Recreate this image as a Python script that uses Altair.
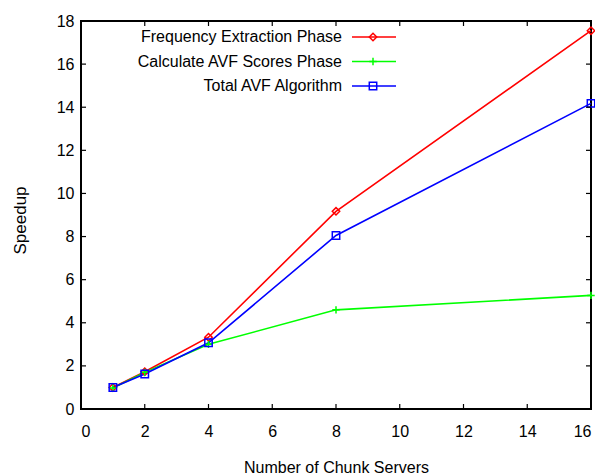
import altair as alt
import pandas as pd

servers = [1, 2, 4, 8, 16]
freq_phase = [1.0, 1.73, 3.33, 9.17, 17.55]
calc_phase = [0.97, 1.70, 3.0, 4.6, 5.27]
total_alg = [1.0, 1.62, 3.07, 8.05, 14.18]

series_names = ["Frequency Extraction Phase", "Calculate AVF Scores Phase", "Total AVF Algorithm"]
series_colors = ["#ff0000", "#00ff00", "#0000ff"]
series_shapes = ["diamond", "M-1,0H1M0,-1V1", "square"]

x_ticks = [2, 4, 6, 8, 10, 12, 14]
y_ticks = [2, 4, 6, 8, 10, 12, 14, 16]

W, H = 510, 388
FONT = "Liberation Sans"

rows = []
for name, vals in zip(series_names, [freq_phase, calc_phase, total_alg]):
    for s, v in zip(servers, vals):
        rows.append({"servers": s, "speedup": v, "series": name})
df = pd.DataFrame(rows)

xscale = alt.Scale(domain=[0, 16], nice=False, zero=False)
yscale = alt.Scale(domain=[0, 18], nice=False, zero=False)
cscale = alt.Scale(domain=series_names, range=series_colors)
sscale = alt.Scale(domain=series_names, range=series_shapes)

xaxis = alt.Axis(values=[0, 2, 4, 6, 8, 10, 12, 14, 16], ticks=False, domain=False, grid=False,
                 labelFont=FONT, labelFontSize=16, labelColor="black", labelPadding=14,
                 title="Number of Chunk Servers", titleFont=FONT, titleFontSize=16,
                 titleFontWeight="normal", titleColor="black",
                 titleX=255, titleY=58, titleBaseline="middle", titleAnchor="middle")
yaxis = alt.Axis(values=[0, 2, 4, 6, 8, 10, 12, 14, 16, 18], ticks=False, domain=False, grid=False,
                 labelFont=FONT, labelFontSize=16, labelColor="black", labelPadding=7,
                 title="Speedup", titleFont=FONT, titleFontSize=17,
                 titleFontWeight="normal", titleColor="black",
                 titleX=-61, titleY=199, titleBaseline="middle", titleAnchor="middle")

base = alt.Chart(df)

lines = base.mark_line(strokeWidth=1.6).encode(
    x=alt.X("servers:Q", scale=xscale, axis=xaxis),
    y=alt.Y("speedup:Q", scale=yscale, axis=yaxis),
    color=alt.Color("series:N", scale=cscale, legend=None),
    detail="series:N",
)

points = base.mark_point(filled=False, strokeWidth=1.5, size=55, opacity=1).encode(
    x=alt.X("servers:Q", scale=xscale, axis=xaxis),
    y=alt.Y("speedup:Q", scale=yscale, axis=yaxis),
    color=alt.Color("series:N", scale=cscale, legend=None),
    shape=alt.Shape("series:N", scale=sscale, legend=None),
)

# inward ticks (gnuplot style)
xt = pd.DataFrame({"servers": x_ticks})
yt = pd.DataFrame({"speedup": y_ticks})
TL = 5
xt_bottom = alt.Chart(xt).mark_rule(color="black", strokeWidth=1.2).encode(
    x=alt.X("servers:Q", scale=xscale, axis=xaxis), y=alt.value(H), y2=alt.value(H - TL))
xt_top = alt.Chart(xt).mark_rule(color="black", strokeWidth=1.2).encode(
    x=alt.X("servers:Q", scale=xscale, axis=xaxis), y=alt.value(0), y2=alt.value(TL))
yt_left = alt.Chart(yt).mark_rule(color="black", strokeWidth=1.2).encode(
    y=alt.Y("speedup:Q", scale=yscale, axis=yaxis), x=alt.value(0), x2=alt.value(TL))
yt_right = alt.Chart(yt).mark_rule(color="black", strokeWidth=1.2).encode(
    y=alt.Y("speedup:Q", scale=yscale, axis=yaxis), x=alt.value(W), x2=alt.value(W - TL))

# manual gnuplot-style legend (text left, sample right)
legend_layers = []
leg_y = [16, 40.5, 65]
for name, col, shp, ly in zip(series_names, series_colors, series_shapes, leg_y):
    d = alt.Data(values=[{"name": name}])
    legend_layers.append(alt.Chart(d).mark_text(
        align="right", baseline="middle", font=FONT, fontSize=16, color="black"
    ).encode(text="name:N", x=alt.value(261), y=alt.value(ly)))
    legend_layers.append(alt.Chart(d).mark_rule(color=col, strokeWidth=1.6).encode(
        x=alt.value(271), x2=alt.value(315), y=alt.value(ly)))
    legend_layers.append(alt.Chart(d).mark_point(
        shape=shp, filled=False, strokeWidth=1.5, size=55, color=col, opacity=1
    ).encode(x=alt.value(292), y=alt.value(ly)))

chart = alt.layer(lines, points, xt_bottom, xt_top, yt_left, yt_right, *legend_layers).properties(
    width=W, height=H,
    autosize=alt.AutoSizeParams(type="none"),
    padding={"left": 73, "top": 13, "right": 4, "bottom": 70},
    background="white",
).configure_view(stroke="black", strokeWidth=2)

chart.save("out.html", embed_options={"renderer": "svg", "actions": False})
